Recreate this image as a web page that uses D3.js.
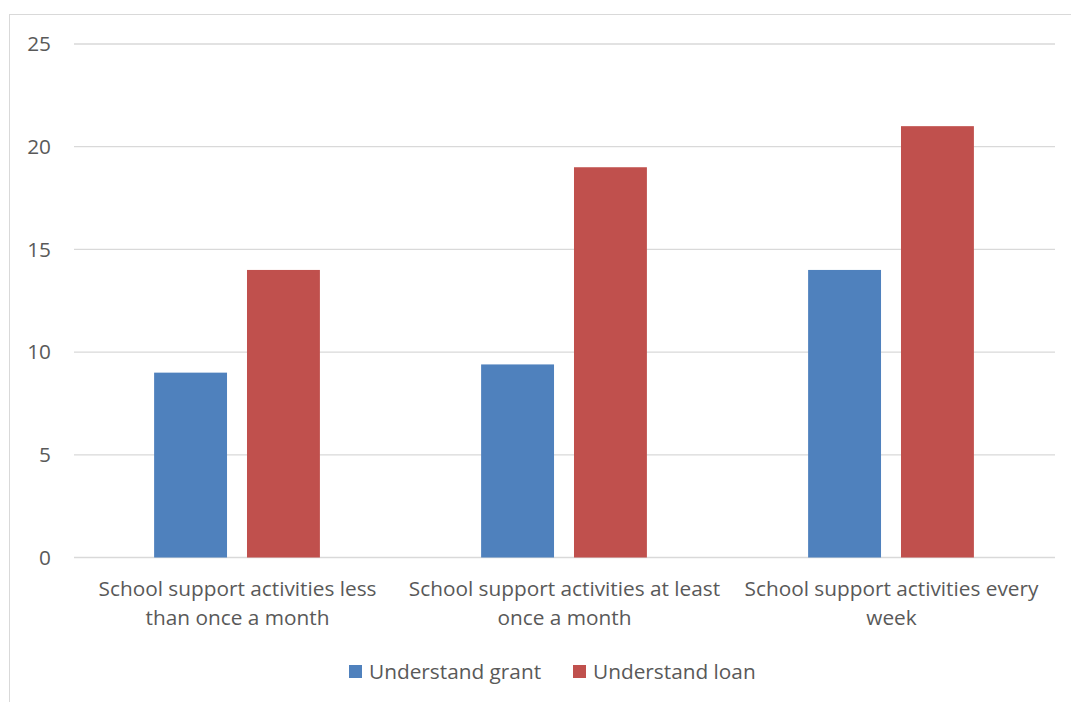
<!DOCTYPE html>
<html><head><meta charset="utf-8">
<script src="https://cdn.jsdelivr.net/npm/d3@7"></script>
<style>body{margin:0;background:#fff}svg{display:block}</style>
</head><body>
<script>
const categories = [
  ["School support activities less", "than once a month"],
  ["School support activities at least", "once a month"],
  ["School support activities every", "week"]
];
const seriesNames = ["Understand grant", "Understand loan"];
const grantValues = [9, 9.4, 14];
const loanValues = [14, 19, 21];
const yTicks = [0, 5, 10, 15, 20, 25];
const colors = ["#4F81BD", "#C0504D"];

(function () {
const W = 1071, H = 702;
const svg = d3.select("body").append("svg").attr("width", W).attr("height", H);
const font = "'Open Sans', Lato, sans-serif";
const fs = 20.8;

svg.append("rect").attr("x", 9.5).attr("y", 14.5).attr("width", 1080).attr("height", 700)
  .attr("fill", "#fff").attr("stroke", "#D9D9D9").attr("stroke-width", 1);

const mLeft = 74, mRight = 1055, mTop = 44, mBottom = 557.5;
const y = d3.scaleLinear().domain([0, 25]).range([mBottom, mTop]);
const x0 = d3.scaleBand().domain(d3.range(categories.length)).range([mLeft, mRight]).padding(0);
const bw = x0.bandwidth();
const x1 = d3.scaleBand().domain([0, 1]).range([bw * 0.245, bw * 0.752]).paddingInner(0.215).paddingOuter(0);

const grid = svg.append("g");
yTicks.forEach(t => {
  grid.append("line").attr("x1", mLeft).attr("x2", mRight).attr("y1", y(t)).attr("y2", y(t))
    .attr("stroke", "#D9D9D9").attr("stroke-width", 1.3);
  svg.append("text").attr("x", 51).attr("y", y(t)).attr("dy", "0.35em").attr("text-anchor", "end")
    .attr("font-family", font).attr("font-size", fs).attr("fill", "#595959").text(t);
});

const data = categories.map((c, i) => [grantValues[i], loanValues[i]]);
const g = svg.append("g");
data.forEach((vals, i) => {
  vals.forEach((v, s) => {
    g.append("rect").attr("x", x0(i) + x1(s)).attr("width", x1.bandwidth())
      .attr("y", y(v)).attr("height", y(0) - y(v)).attr("fill", colors[s]);
  });
  const cx = x0(i) + bw / 2;
  categories[i].forEach((line, k) => {
    svg.append("text").attr("x", cx).attr("y", 589 + k * 29).attr("dy", "0.35em").attr("text-anchor", "middle")
      .attr("font-family", font).attr("font-size", fs).attr("fill", "#595959").text(line);
  });
});

const legX = [349, 573];
seriesNames.forEach((n, s) => {
  svg.append("rect").attr("x", legX[s]).attr("y", 665).attr("width", 13).attr("height", 13).attr("fill", colors[s]);
  svg.append("text").attr("x", legX[s] + 20).attr("y", 671.5).attr("dy", "0.35em")
    .attr("font-family", font).attr("font-size", fs).attr("fill", "#595959").text(n);
});
})();
</script>
</body></html>
